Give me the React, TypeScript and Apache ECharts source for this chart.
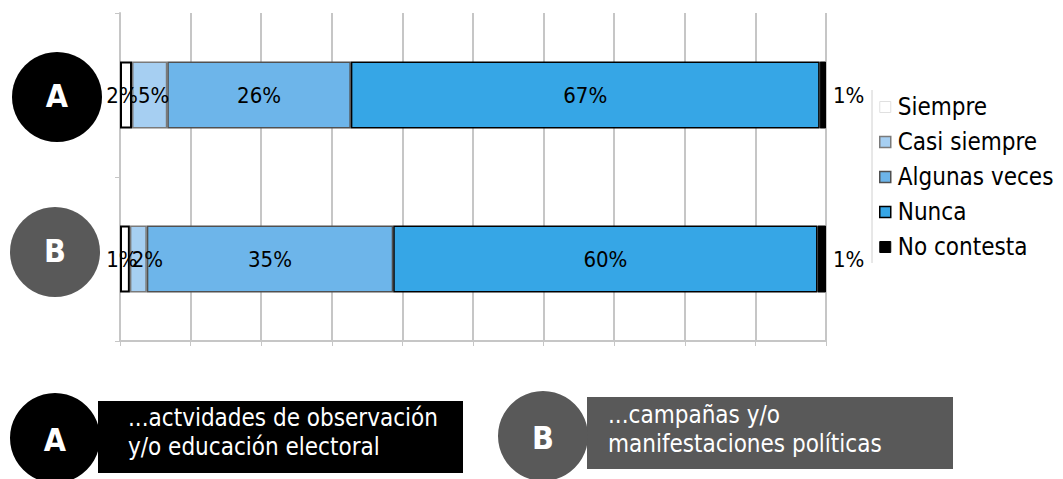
import React, { useEffect, useRef } from "react";
import * as echarts from "echarts";

const categories = ["A", "B"];
const seriesNames = ["Siempre", "Casi siempre", "Algunas veces", "Nunca", "No contesta"];

// share of respondents (A, B)
const siempre = [1.7, 1.4];
const casiSiempre = [5.0, 2.4];
const algunasVeces = [26.0, 34.9];
const nunca = [66.4, 60.1];
const noContesta = [0.9, 1.2];

// printed labels
const siempreLabels = ["2%", "1%"];
const casiLabels = ["5%", "2%"];
const algunasLabels = ["26%", "35%"];
const nuncaLabels = ["67%", "60%"];
const noContestaLabels = ["1%", "1%"];

const captionA = ["...actvidades de observación", "y/o educación electoral"];
const captionB = ["...campañas y/o", "manifestaciones políticas"];

const FONT = '"DejaVu Sans Condensed", "DejaVu Sans", sans-serif';

export default function App() {
  const ref = useRef<HTMLDivElement>(null);

  useEffect(() => {
    if (!ref.current) return;
    const chart = echarts.init(ref.current, null, { renderer: "svg" });

    const values = [siempre, casiSiempre, algunasVeces, nunca, noContesta];
    const labels = [siempreLabels, casiLabels, algunasLabels, nuncaLabels, noContestaLabels];
    const itemStyles = [
      { color: "#ffffff", borderColor: "#000000", borderWidth: 2 },
      { color: "#a6cff2", borderColor: "#7a7a7a", borderWidth: 1.5 },
      { color: "#6db5ea", borderColor: "#505050", borderWidth: 1.5 },
      { color: "#36a6e6", borderColor: "#000000", borderWidth: 1.5 },
      { color: "#000000", borderColor: "#000000", borderWidth: 1 },
    ];
    const legendStyles = [
      { color: "#ffffff", borderColor: "#e0e0e0", borderWidth: 1 },
      { color: "#a6cff2", borderColor: "#7a7a7a", borderWidth: 1.5 },
      { color: "#6db5ea", borderColor: "#505050", borderWidth: 1.5 },
      { color: "#36a6e6", borderColor: "#000000", borderWidth: 1.5 },
      { color: "#000000", borderColor: "#000000", borderWidth: 1 },
    ];
    // small label nudges so the crowded labels sit as in the original
    const labelOffsets: number[][][] = [
      [[-4, 0], [-3, 0]],
      [[4, 0], [9, 0]],
      [[0, 0], [0, 0]],
      [[0, 0], [0, 0]],
      [[0, 0], [0, 0]],
    ];

    const series = seriesNames.map((name, i) => ({
      name,
      type: "bar",
      stack: "total",
      barWidth: 67,
      data: values[i].map((v, j) => ({ value: v, label: { offset: labelOffsets[i][j] } })),
      itemStyle: itemStyles[i],
      label: {
        show: true,
        position: i === 4 ? "right" : "inside",
        distance: 7,
        color: "#000",
        fontSize: 22,
        fontFamily: FONT,
        formatter: (p: any) => labels[i][p.dataIndex],
      },
      emphasis: { disabled: true },
    }));

    const txt = (x: number, y: number, text: string, font: string, align: string) => ({
      type: "text",
      x,
      y,
      style: { text, fill: "#fff", font, align, verticalAlign: "middle", textAlign: align, textVerticalAlign: "middle" },
    });

    const option: any = {
      animation: false,
      grid: { left: 120, top: 13, width: 706, height: 328, containLabel: false },
      xAxis: {
        type: "value",
        min: 0,
        max: 100,
        interval: 10,
        axisLabel: { show: false },
        splitLine: { show: true, lineStyle: { color: "#c6c6c6", width: 2 } },
        axisLine: { show: true, lineStyle: { color: "#c6c6c6", width: 2 } },
        axisTick: { show: true, length: 5, lineStyle: { color: "#c6c6c6", width: 1 } },
      },
      yAxis: {
        type: "category",
        data: categories,
        inverse: true,
        axisLabel: { show: false },
        axisLine: { show: true, lineStyle: { color: "#c6c6c6", width: 2 } },
        axisTick: { show: true, length: 5, lineStyle: { color: "#c6c6c6", width: 1 } },
      },
      legend: {
        orient: "vertical",
        left: 874,
        top: 90,
        itemWidth: 11,
        itemHeight: 11,
        itemGap: 11,
        icon: "rect",
        textStyle: { fontSize: 24, fontFamily: FONT, color: "#000", lineHeight: 24, padding: [0, 0, 0, 2] },
        data: seriesNames.map((n, i) => ({ name: n, itemStyle: legendStyles[i] })),
      },
      series,
      graphic: [
        { type: "line", shape: { x1: 872, y1: 90, x2: 872, y2: 263 }, style: { stroke: "#d0d0d0", lineWidth: 1 } },
        { type: "circle", shape: { cx: 57, cy: 97, r: 45 }, style: { fill: "#000000" } },
        txt(57, 96, "A", `bold 32px ${FONT}`, "center"),
        { type: "circle", shape: { cx: 55, cy: 252, r: 45 }, style: { fill: "#595959" } },
        txt(55, 251, "B", `bold 32px ${FONT}`, "center"),
        { type: "rect", shape: { x: 98, y: 401, width: 365, height: 72 }, style: { fill: "#000000" } },
        { type: "circle", shape: { cx: 55, cy: 438, r: 45 }, style: { fill: "#000000" } },
        txt(55, 440, "A", `bold 32px ${FONT}`, "center"),
        txt(128, 418, captionA[0], `24px ${FONT}`, "left"),
        txt(128, 447, captionA[1], `24px ${FONT}`, "left"),
        { type: "rect", shape: { x: 587, y: 397, width: 366, height: 72 }, style: { fill: "#595959" } },
        { type: "circle", shape: { cx: 543, cy: 436, r: 45 }, style: { fill: "#595959" } },
        txt(543, 438, "B", `bold 32px ${FONT}`, "center"),
        txt(608, 415, captionB[0], `24px ${FONT}`, "left"),
        txt(608, 444, captionB[1], `24px ${FONT}`, "left"),
      ],
    };

    chart.setOption(option);
    return () => chart.dispose();
  }, []);

  return (
    <div
      ref={ref}
      style={{ position: "fixed", left: 0, top: 0, width: 1063, height: 479, background: "#ffffff" }}
    />
  );
}
